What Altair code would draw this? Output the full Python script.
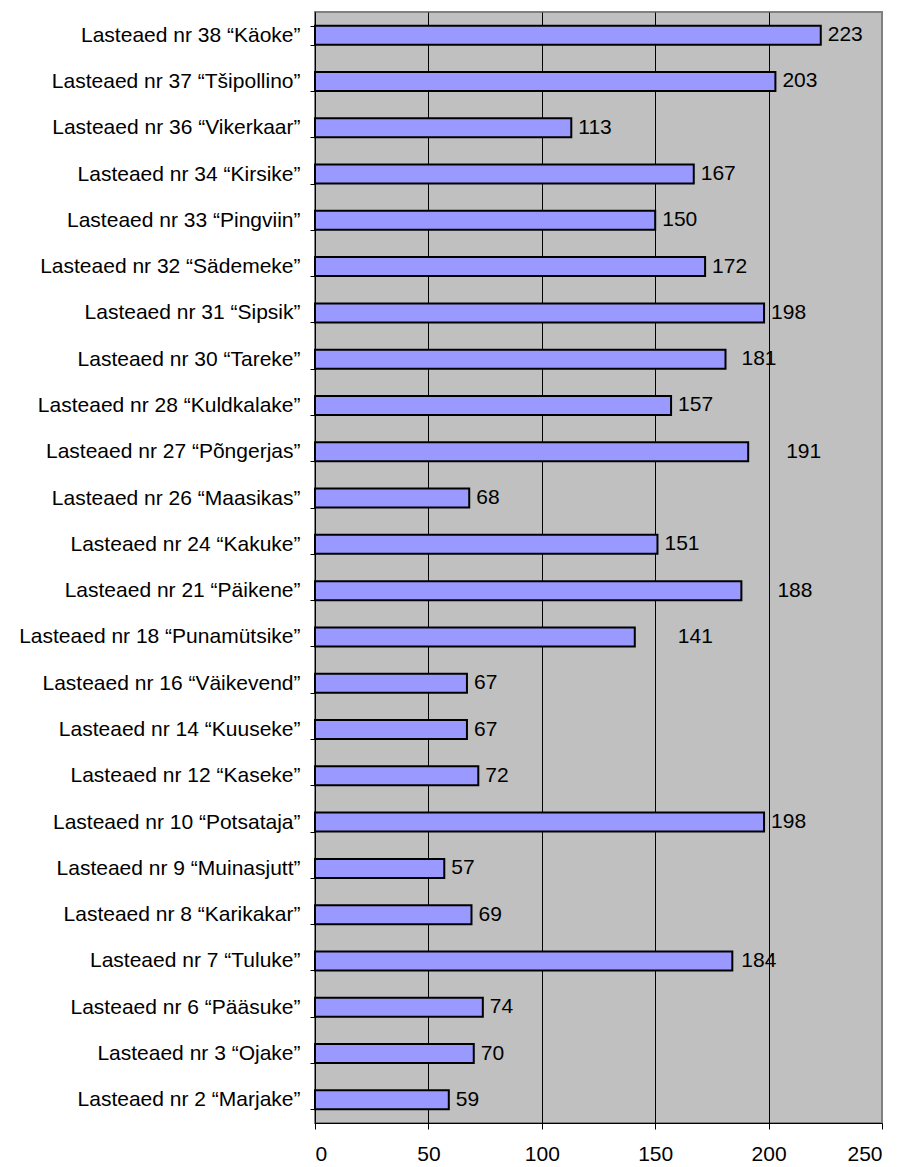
import altair as alt
import pandas as pd

names = [
    "Lasteaed nr 38 “Käoke”",
    "Lasteaed nr 37 “Tšipollino”",
    "Lasteaed nr 36 “Vikerkaar”",
    "Lasteaed nr 34 “Kirsike”",
    "Lasteaed nr 33 “Pingviin”",
    "Lasteaed nr 32 “Sädemeke”",
    "Lasteaed nr 31 “Sipsik”",
    "Lasteaed nr 30 “Tareke”",
    "Lasteaed nr 28 “Kuldkalake”",
    "Lasteaed nr 27 “Põngerjas”",
    "Lasteaed nr 26 “Maasikas”",
    "Lasteaed nr 24 “Kakuke”",
    "Lasteaed nr 21 “Päikene”",
    "Lasteaed nr 18 “Punamütsike”",
    "Lasteaed nr 16 “Väikevend”",
    "Lasteaed nr 14 “Kuuseke”",
    "Lasteaed nr 12 “Kaseke”",
    "Lasteaed nr 10 “Potsataja”",
    "Lasteaed nr 9 “Muinasjutt”",
    "Lasteaed nr 8 “Karikakar”",
    "Lasteaed nr 7 “Tuluke”",
    "Lasteaed nr 6 “Pääsuke”",
    "Lasteaed nr 3 “Ojake”",
    "Lasteaed nr 2 “Marjake”",
]
values = [223, 203, 113, 167, 150, 172, 198, 181, 157, 191, 68, 151, 188,
          141, 67, 67, 72, 198, 57, 69, 184, 74, 70, 59]
# extra horizontal nudge (pixels) of a few value labels, as in the original
label_nudge = [0, 0, 0, 0, 0, 0, 0, 9, 0, 31, 0, 0, 29, 36, 0, 0, 0, 0, 0, 0, 2, 0, 0, 0]
x_ticks = [0, 50, 100, 150, 200, 250]

df = pd.DataFrame({"name": names, "value": values, "nudge": label_nudge})

W, H = 567, 1111
FONT = "Liberation Sans"
FS = 21

x_scale = alt.Scale(domain=[0, 250], nice=False, zero=True)
y_enc = alt.Y("name:N", sort=names,
              scale=alt.Scale(paddingInner=0.59, paddingOuter=0.295),
              axis=alt.Axis(title=None, tickBand="extent", tickSize=5,
                            tickColor="black", domainColor="black",
                            labelFontSize=FS, labelColor="black",
                            labelFont=FONT, labelPadding=10, grid=False,
                            labelLimit=400))

bars = alt.Chart(df).mark_bar(fill="#9999FF", stroke="black", strokeWidth=2).encode(
    x=alt.X("value:Q", scale=x_scale,
            axis=alt.Axis(title=None, values=x_ticks, tickSize=6,
                          tickColor="black", domainColor="black",
                          labelFontSize=FS, labelColor="black", labelFont=FONT,
                          labelPadding=14, grid=True,
                          gridColor=alt.condition("datum.value >= 250",
                                                  alt.value("#808080"),
                                                  alt.value("black")),
                          gridWidth=1)),
    y=y_enc,
)

labels = alt.Chart(df).transform_calculate(
    lx="datum.value + datum.nudge * 250 / %d" % W
).mark_text(align="left", baseline="middle", dx=7, fontSize=FS,
            font=FONT, color="black").encode(
    x=alt.X("lx:Q", scale=x_scale),
    y=alt.Y("name:N", sort=names),
    text="value:Q",
)

chart = alt.layer(bars, labels).properties(
    width=W, height=H,
    autosize=alt.AutoSizeParams(type="none"),
    padding={"left": 307, "top": 4, "right": 12, "bottom": 40},
).configure_view(
    fill="#C0C0C0", stroke="#808080", strokeWidth=2
)

chart.save("out.html", embed_options={"renderer": "svg", "actions": False})
